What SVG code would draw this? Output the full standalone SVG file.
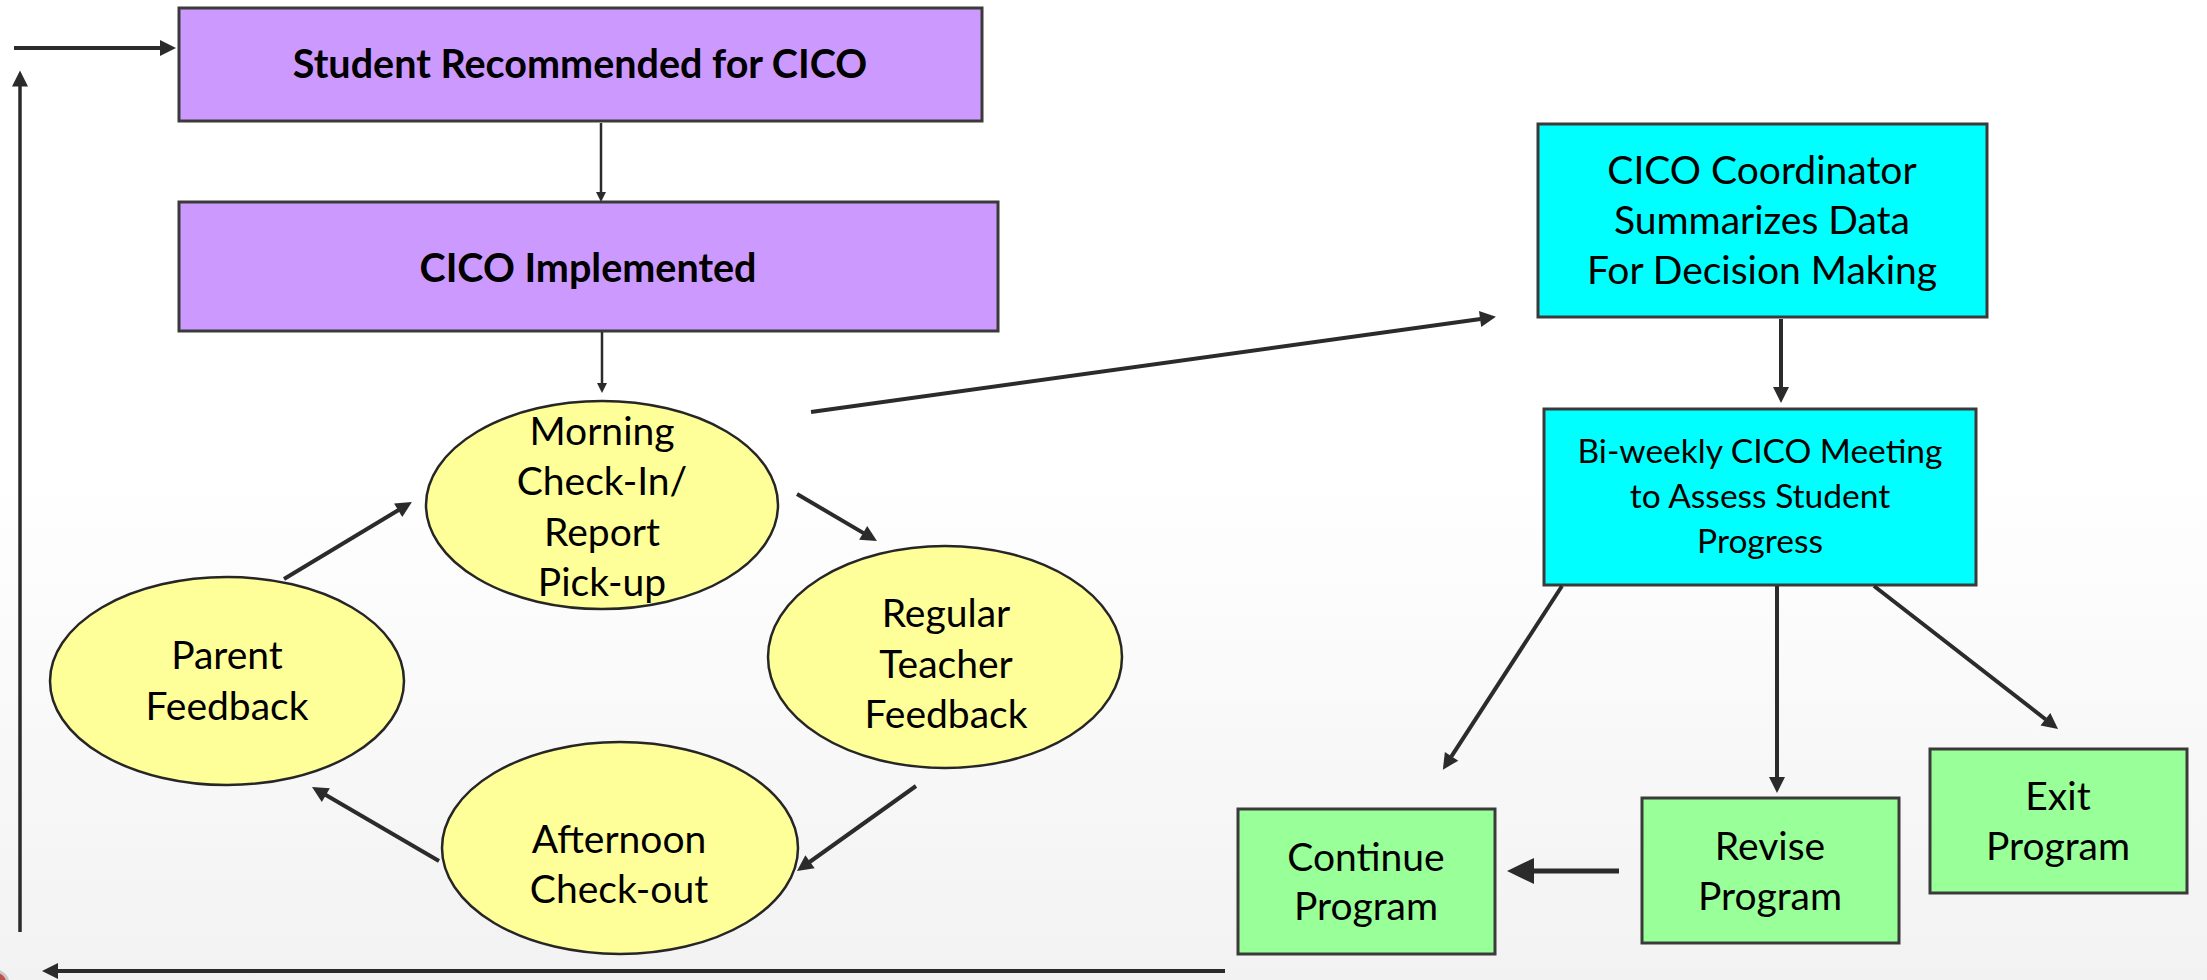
<svg xmlns="http://www.w3.org/2000/svg" width="2207" height="980" viewBox="0 0 2207 980">
  <defs>
    <linearGradient id="bg" x1="0" y1="0" x2="0" y2="980" gradientUnits="userSpaceOnUse">
      <stop offset="0" stop-color="#ffffff"/>
      <stop offset="0.48" stop-color="#ffffff"/>
      <stop offset="1" stop-color="#f2f2f2"/>
    </linearGradient>
    <marker id="head-lg" markerUnits="userSpaceOnUse" viewBox="0 -8 16 16" markerWidth="16" markerHeight="16" refX="0.5" refY="0" orient="auto" overflow="visible">
      <path d="M0,-8 L16,0 L0,8 z" fill="#2b2b2b"/>
    </marker>
    <marker id="head-sm" markerUnits="userSpaceOnUse" viewBox="0 -6 14 12" markerWidth="14" markerHeight="12" refX="0.5" refY="0" orient="auto" overflow="visible">
      <path d="M0,-6 L14,0 L0,6 z" fill="#2b2b2b"/>
    </marker>
    <marker id="head-xs" markerUnits="userSpaceOnUse" viewBox="0 -5 10 10" markerWidth="10" markerHeight="10" refX="0.5" refY="0" orient="auto" overflow="visible">
      <path d="M0,-5 L10,0 L0,5 z" fill="#2b2b2b"/>
    </marker>
    <marker id="head-xl" markerUnits="userSpaceOnUse" viewBox="0 -13 27 26" markerWidth="27" markerHeight="26" refX="0.5" refY="0" orient="auto" overflow="visible">
      <path d="M0,-13 L27,0 L0,13 z" fill="#2b2b2b"/>
    </marker>
  </defs>
  <style>
    .box { stroke: #3a3a3a; stroke-width: 3; }
    .purple { fill: #cc99ff; }
    .cyan { fill: #00ffff; }
    .green { fill: #99ff99; }
    .oval { fill: #ffff99; stroke: #262626; stroke-width: 2.5; }
    text { font-family: Lato, "Liberation Sans", sans-serif; fill: #000; text-anchor: middle; }
    .t { font-size: 39px; }
    .tb { font-size: 39.5px; font-weight: bold; }
    .ts { font-size: 33.5px; }
    .wire { fill: none; stroke: #2b2b2b; stroke-linecap: butt; }
    .w-thick { stroke-width: 4; marker-end: url(#head-lg); }
    .w-thin { stroke-width: 2.5; marker-end: url(#head-sm); }
    .w-xs { stroke-width: 2.5; marker-end: url(#head-xs); }
  </style>

  <!-- backdrop -->
  <rect x="0" y="0" width="2207" height="980" fill="url(#bg)"/>
  <circle cx="-5" cy="984" r="13" fill="#c0504d" stroke="#c8c8c8" stroke-width="3"/>

  <!-- nodes -->
  <g id="recommended">
    <rect class="box purple" x="179" y="8" width="803" height="113"/>
    <text class="tb" x="580" y="78">Student Recommended for CICO</text>
  </g>
  <g id="implemented">
    <rect class="box purple" x="179" y="202" width="819" height="129"/>
    <text class="tb" x="588" y="282">CICO Implemented</text>
  </g>
  <g id="morning">
    <ellipse class="oval" cx="602" cy="505" rx="176" ry="104"/>
    <text class="t" x="602" y="445">Morning</text>
    <text class="t" x="602" y="495">Check-In/</text>
    <text class="t" x="602" y="546">Report</text>
    <text class="t" x="602" y="596">Pick-up</text>
  </g>
  <g id="teacher">
    <ellipse class="oval" cx="945" cy="657" rx="177" ry="111"/>
    <text class="t" x="946" y="627">Regular</text>
    <text class="t" x="946" y="678">Teacher</text>
    <text class="t" x="946" y="728">Feedback</text>
  </g>
  <g id="afternoon">
    <ellipse class="oval" cx="620" cy="848" rx="178" ry="106"/>
    <text class="t" x="619" y="853">Afternoon</text>
    <text class="t" x="619" y="903">Check-out</text>
  </g>
  <g id="parent">
    <ellipse class="oval" cx="227" cy="681" rx="177" ry="104"/>
    <text class="t" x="227" y="669">Parent</text>
    <text class="t" x="227" y="720">Feedback</text>
  </g>
  <g id="coordinator">
    <rect class="box cyan" x="1538" y="124" width="449" height="193"/>
    <text class="t" x="1762" y="184">CICO Coordinator</text>
    <text class="t" x="1762" y="234">Summarizes Data</text>
    <text class="t" x="1762" y="284">For Decision Making</text>
  </g>
  <g id="meeting">
    <rect class="box cyan" x="1544" y="409" width="432" height="176"/>
    <text class="ts" x="1760" y="463">Bi-weekly CICO Meeting</text>
    <text class="ts" x="1760" y="508">to Assess Student</text>
    <text class="ts" x="1760" y="553">Progress</text>
  </g>
  <g id="continue">
    <rect class="box green" x="1238" y="809" width="257" height="145"/>
    <text class="t" x="1366" y="871">Continue</text>
    <text class="t" x="1366" y="920">Program</text>
  </g>
  <g id="revise">
    <rect class="box green" x="1642" y="798" width="257" height="145"/>
    <text class="t" x="1770" y="860">Revise</text>
    <text class="t" x="1770" y="910">Program</text>
  </g>
  <g id="exit">
    <rect class="box green" x="1930" y="749" width="257" height="144"/>
    <text class="t" x="2058" y="810">Exit</text>
    <text class="t" x="2058" y="860">Program</text>
  </g>

  <!-- connectors -->
  <g id="connectors">
    <line class="wire w-thick" x1="14" y1="48" x2="160.5" y2="48"/>
    <line class="wire" stroke-width="3.5" x1="20" y1="932" x2="20" y2="86" marker-end="url(#head-lg)"/>
    <line class="wire w-thick" x1="1225" y1="971" x2="57.5" y2="971"/>
    <line class="wire w-xs" x1="601" y1="123" x2="601" y2="192.5"/>
    <line class="wire w-xs" x1="602" y1="332" x2="602" y2="383.5"/>
    <line class="wire w-thick" x1="811" y1="412" x2="1480.6" y2="318.9"/>
    <line class="wire w-thick" x1="797" y1="494" x2="863.6" y2="533.1"/>
    <line class="wire w-thick" x1="916" y1="786" x2="809.6" y2="862.0"/>
    <line class="wire w-thick" x1="439" y1="861" x2="325.4" y2="794.8"/>
    <line class="wire w-thick" x1="284" y1="579" x2="398.6" y2="510.0"/>
    <line class="wire w-thick" x1="1781" y1="319" x2="1781" y2="387.5"/>
    <line class="wire w-thick" x1="1562" y1="586" x2="1451.3" y2="756.7"/>
    <line class="wire w-thick" x1="1777" y1="586" x2="1777" y2="777.5"/>
    <line class="wire w-thick" x1="1874" y1="586" x2="2045.8" y2="719.5"/>
    <line class="wire" stroke-width="5" x1="1619" y1="871" x2="1533.5" y2="871" marker-end="url(#head-xl)"/>
  </g>
</svg>
